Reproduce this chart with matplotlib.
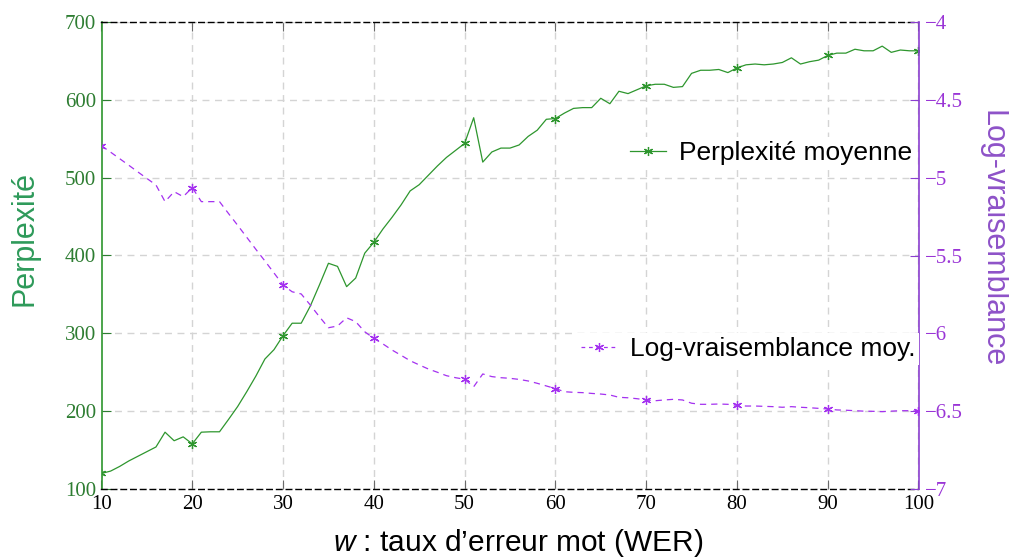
import matplotlib
matplotlib.use("Agg")
import matplotlib.pyplot as plt
from matplotlib.lines import Line2D

# ---------------- data ----------------
wer = list(range(10, 101))
perplexite = [120, 123, 129, 136, 142, 148, 154, 173, 162, 167,
              158, 173, 173.5, 173.5, 189.5, 206, 225, 245, 267, 279,
              297, 313, 313, 335, 362, 390, 386, 360, 371, 403,
              417, 434, 449, 465, 483, 491, 503, 515, 526, 535,
              544, 577, 520, 533, 538, 538, 542, 553, 561, 575,
              576, 583, 589, 590, 590, 602, 595, 611, 608, 613,
              618, 620, 620, 616, 617, 634, 638, 638, 639, 635,
              641, 645, 646, 645, 646, 648, 654, 646, 649, 651,
              657, 660, 660, 665, 663, 663, 669, 661, 664, 663,
              663]
logvrais = [-4.795, -4.836, -4.878, -4.920, -4.963, -5.005, -5.047, -5.154, -5.090, -5.122,
            -5.064, -5.154, -5.154, -5.154, -5.231, -5.306, -5.383, -5.460, -5.535, -5.612,
            -5.690, -5.733, -5.747, -5.818, -5.893, -5.964, -5.953, -5.900, -5.925, -5.990,
            -6.032, -6.068, -6.107, -6.141, -6.176, -6.203, -6.229, -6.250, -6.272, -6.285,
            -6.295, -6.343, -6.261, -6.278, -6.285, -6.289, -6.296, -6.306, -6.321, -6.338,
            -6.355, -6.375, -6.379, -6.381, -6.386, -6.390, -6.396, -6.411, -6.414, -6.420,
            -6.428, -6.433, -6.428, -6.424, -6.428, -6.449, -6.456, -6.456, -6.454, -6.456,
            -6.462, -6.467, -6.467, -6.469, -6.471, -6.475, -6.471, -6.475, -6.478, -6.482,
            -6.486, -6.492, -6.494, -6.497, -6.500, -6.501, -6.503, -6.500, -6.497, -6.497,
            -6.500]
x_ticks = [10, 20, 30, 40, 50, 60, 70, 80, 90, 100]
left_ticks = [100, 200, 300, 400, 500, 600, 700]
right_ticks = [-7, -6.5, -6, -5.5, -5, -4.5, -4]
right_tick_labels = ["\u22127", "\u22126.5", "\u22126", "\u22125.5", "\u22125", "\u22124.5", "\u22124"]
label_x = "$\\mathit{w}$ : taux d\u2019erreur mot (WER)"
label_left = "Perplexit\u00e9"
label_right = "Log-vraisemblance"
legend_green = "Perplexit\u00e9 moyenne"
legend_purple = "Log-vraisemblance moy."

# ---------------- style ----------------
plt.rcParams['mathtext.fontset'] = 'custom'
plt.rcParams['mathtext.it'] = 'Liberation Sans:italic'
plt.rcParams['mathtext.rm'] = 'Liberation Sans'

GREEN_LINE = '#2e962e'
GREEN_TICK = '#2e7d32'
GREEN_LABEL = '#2e9a5a'
PURPLE_LINE = '#a431f0'
PURPLE_SPINE = '#8b3fd0'
PURPLE_TICK = '#9a35d6'
PURPLE_LABEL = '#8e52c8'
GRID = '#d4d4d4'

W, H = 1009, 559
fig = plt.figure(figsize=(W / 100, H / 100), dpi=100)
L, R, T, B = 101.5, 918.5, 22, 489
ax = fig.add_axes([L / W, 1 - B / H, (R - L) / W, (B - T) / H])
ax2 = ax.twinx()

star = (6, 2, 0)
MS = 6.5

ax.plot(wer, perplexite, color=GREEN_LINE, lw=0.9, marker=star, markevery=10,
        markersize=MS, mew=0.9, zorder=3)
ax2.plot(wer, logvrais, color=PURPLE_LINE, lw=0.9, ls=(0, (5, 4)), marker=star,
         markevery=10, markersize=MS, mew=0.9, zorder=3)

ax.set_xlim(10, 100)
ax.set_ylim(100, 700)
ax2.set_ylim(-7, -4)

ax.set_xticks(x_ticks)
ax.set_yticks(left_ticks)
ax2.set_yticks(right_ticks)
ax2.set_yticklabels(right_tick_labels)

ax.grid(True, color=GRID, ls=(0, (5, 4)), lw=1.0, zorder=0)
ax.set_axisbelow(True)

serif = 'Liberation Serif'
ax.tick_params(axis='x', which='both', direction='in', top=True, bottom=True,
               length=6.5, width=0.8, color='#6a6a6a', labelsize=15, pad=4.5,
               labelcolor='black')
ax.tick_params(axis='y', direction='in', left=True, right=False, length=6.5,
               width=0.8, color=GREEN_TICK, labelcolor=GREEN_TICK, labelsize=15, pad=4)
ax2.tick_params(axis='y', direction='in', right=True, left=False, length=6.5,
                width=0.8, color=PURPLE_SPINE, labelcolor=PURPLE_TICK, labelsize=15, pad=5)
for lab in ax.get_xticklabels() + ax.get_yticklabels() + ax2.get_yticklabels():
    lab.set_fontfamily(serif)

for s in ['top', 'bottom']:
    ax.spines[s].set_linestyle((0, (4, 3)))
    ax.spines[s].set_color('black')
    ax.spines[s].set_linewidth(1.0)
    ax2.spines[s].set_visible(False)
ax.spines['left'].set_color(GREEN_LINE)
ax.spines['left'].set_linewidth(1.2)
ax.spines['right'].set_visible(False)
ax2.spines['left'].set_visible(False)
ax2.spines['right'].set_color(PURPLE_SPINE)
ax2.spines['right'].set_linewidth(1.2)

sans = 'Liberation Sans'
fig.text(518 / W, 1 - 543 / H, label_x, ha='center', va='center',
         fontsize=21.5, family=sans)
fig.text(25 / W, 1 - 238 / H, label_left, ha='center', va='center', rotation=90,
         fontsize=22, family=sans, color=GREEN_LABEL)
fig.text(993 / W, 1 - 239 / H, label_right, ha='center', va='center', rotation=270,
         fontsize=22, family=sans, color=PURPLE_LABEL)

h1 = Line2D([], [], color=GREEN_LINE, lw=0.9, marker=star, markersize=MS, mew=0.9)
h2 = Line2D([], [], color=PURPLE_LINE, lw=0.9, ls=(0, (3, 3)), marker=star,
            markersize=MS, mew=0.9)
leg_kw = dict(frameon=True, facecolor='white', edgecolor='none', framealpha=1,
              fancybox=False, borderpad=0.15, borderaxespad=0, handlelength=1.35,
              handletextpad=0.5, prop={'family': sans, 'size': 19}, loc='center right')
leg1 = ax2.legend([h1], [legend_green], bbox_to_anchor=((916 - L) / (R - L), 1 - (153 - T) / (B - T)),
                  **leg_kw)
ax2.add_artist(leg1)
leg2 = ax2.legend([h2], [legend_purple], bbox_to_anchor=((919 - L) / (R - L), 1 - (349 - T) / (B - T)),
                  **leg_kw)

fig.savefig('out.png', dpi=100)
